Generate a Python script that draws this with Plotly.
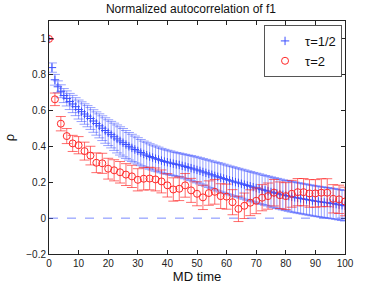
import plotly.graph_objects as go

# ---- data ----
blue_x = list(range(0, 101))
blue_y = [1.000, 0.840, 0.772, 0.733, 0.708, 0.684, 0.668, 0.651, 0.637, 0.622,
          0.606, 0.594, 0.581, 0.569, 0.556, 0.542, 0.528, 0.515, 0.502, 0.489,
          0.477, 0.466, 0.454, 0.442, 0.431, 0.421, 0.411, 0.401, 0.392, 0.383,
          0.375, 0.366, 0.358, 0.351, 0.344, 0.338, 0.332, 0.327, 0.321, 0.316,
          0.312, 0.308, 0.304, 0.300, 0.297, 0.292, 0.288, 0.283, 0.279, 0.274,
          0.269, 0.264, 0.258, 0.253, 0.247, 0.242, 0.236, 0.231, 0.226, 0.221,
          0.216, 0.211, 0.206, 0.201, 0.197, 0.192, 0.187, 0.182, 0.178, 0.173,
          0.168, 0.164, 0.159, 0.155, 0.151, 0.146, 0.142, 0.138, 0.134, 0.130,
          0.126, 0.123, 0.119, 0.116, 0.113, 0.110, 0.107, 0.104, 0.101, 0.098,
          0.095, 0.093, 0.090, 0.088, 0.086, 0.083, 0.081, 0.078, 0.075, 0.072,
          0.069]
blue_err = [0.000, 0.026, 0.030, 0.033, 0.036, 0.039, 0.042, 0.045, 0.048, 0.050,
            0.053, 0.055, 0.057, 0.059, 0.061, 0.063, 0.065, 0.067, 0.069, 0.071,
            0.072, 0.074, 0.076, 0.078, 0.079, 0.079, 0.078, 0.077, 0.076, 0.075,
            0.074, 0.073, 0.072, 0.072, 0.071, 0.070, 0.070, 0.069, 0.068, 0.068,
            0.067, 0.067, 0.066, 0.066, 0.066, 0.067, 0.068, 0.069, 0.070, 0.071,
            0.072, 0.073, 0.074, 0.075, 0.076, 0.077, 0.078, 0.079, 0.080, 0.080,
            0.080, 0.080, 0.081, 0.081, 0.081, 0.081, 0.082, 0.082, 0.082, 0.082,
            0.083, 0.083, 0.083, 0.083, 0.083, 0.084, 0.084, 0.084, 0.084, 0.084,
            0.084, 0.085, 0.085, 0.085, 0.085, 0.085, 0.085, 0.085, 0.085, 0.085,
            0.085, 0.085, 0.085, 0.085, 0.085, 0.085, 0.085, 0.085, 0.085, 0.085,
            0.085]

red_x = list(range(0, 101, 2))
red_y = [1.000, 0.663, 0.527, 0.458, 0.417, 0.407, 0.374, 0.349, 0.309, 0.306,
         0.276, 0.267, 0.256, 0.243, 0.233, 0.214, 0.220, 0.221, 0.216, 0.205,
         0.183, 0.160, 0.164, 0.183, 0.155, 0.136, 0.116, 0.140, 0.147, 0.123,
         0.120, 0.089, 0.052, 0.069, 0.086, 0.097, 0.114, 0.123, 0.142, 0.128,
         0.123, 0.136, 0.145, 0.145, 0.138, 0.138, 0.142, 0.142, 0.108, 0.105,
         0.093]
red_err = [0.000, 0.035, 0.040, 0.042, 0.045, 0.048, 0.050, 0.052, 0.055, 0.056,
           0.058, 0.059, 0.060, 0.061, 0.062, 0.062, 0.063, 0.063, 0.064, 0.064,
           0.065, 0.065, 0.066, 0.066, 0.067, 0.067, 0.068, 0.068, 0.069, 0.069,
           0.070, 0.070, 0.071, 0.071, 0.072, 0.072, 0.073, 0.073, 0.074, 0.074,
           0.075, 0.075, 0.076, 0.076, 0.077, 0.077, 0.078, 0.078, 0.079, 0.079,
           0.080]

x_ticks = [0, 10, 20, 30, 40, 50, 60, 70, 80, 90, 100]
y_ticks = [-0.2, 0, 0.2, 0.4, 0.6, 0.8, 1]
y_tick_text = ["\u22120.2", "0", "0.2", "0.4", "0.6", "0.8", "1"]

FONT = "Liberation Sans, Arial, sans-serif"

fig = go.Figure()
fig.add_hline(y=0, line=dict(color="rgba(90,110,255,0.8)", width=1, dash="dash"))

fig.add_trace(go.Scatter(
    x=blue_x, y=blue_y, mode="markers", name="\u03c4=1/2",
    marker=dict(symbol="cross-thin-open", size=6, color="rgb(60,80,255)",
                line=dict(color="rgb(60,80,255)", width=1)),
    error_y=dict(type="data", array=blue_err, visible=True,
                 color="rgba(50,70,255,0.5)", thickness=1, width=5),
))
fig.add_trace(go.Scatter(
    x=red_x, y=red_y, mode="markers", name="\u03c4=2",
    marker=dict(symbol="circle-open", size=7, color="rgb(255,40,40)",
                line=dict(color="rgb(255,40,40)", width=1)),
    error_y=dict(type="data", array=red_err, visible=True,
                 color="rgba(255,30,30,0.65)", thickness=1, width=5),
))

fig.update_layout(
    width=382, height=287,
    margin=dict(l=49, r=37, t=21, b=33, autoexpand=False),
    paper_bgcolor="white", plot_bgcolor="white",
    font=dict(family=FONT, size=10, color="#222"),
    title=dict(text="Normalized autocorrelation of f1", x=0.5, xanchor="center",
               y=0.968, yanchor="middle", font=dict(size=12, color="#111")),
    showlegend=True,
    legend=dict(x=0.99, xanchor="right", y=0.983, yanchor="top",
                bgcolor="white", bordercolor="#555", borderwidth=1,
                font=dict(size=13, color="#111"), itemwidth=30,
                tracegroupgap=0),
)
fig.update_xaxes(range=[0, 100], tickvals=x_ticks, ticks="inside", ticklen=4,
                 showline=True, linecolor="#222", linewidth=1, mirror="ticks",
                 showgrid=False, zeroline=False, tickcolor="#222", automargin=False,
                 title=dict(text="MD time", font=dict(size=13, color="#111"), standoff=2))
fig.update_yaxes(range=[-0.2, 1.1], tickvals=y_ticks, ticktext=y_tick_text,
                 ticks="inside", ticklen=4,
                 showline=True, linecolor="#222", linewidth=1, mirror="ticks",
                 showgrid=False, zeroline=False, tickcolor="#222", automargin=False,
                 title=dict(text="\u03c1", font=dict(size=13, color="#111"), standoff=8))

fig.write_html("out.html", config={"displayModeBar": False},
               post_script="document.body.style.margin='0';document.body.style.padding='0';")
